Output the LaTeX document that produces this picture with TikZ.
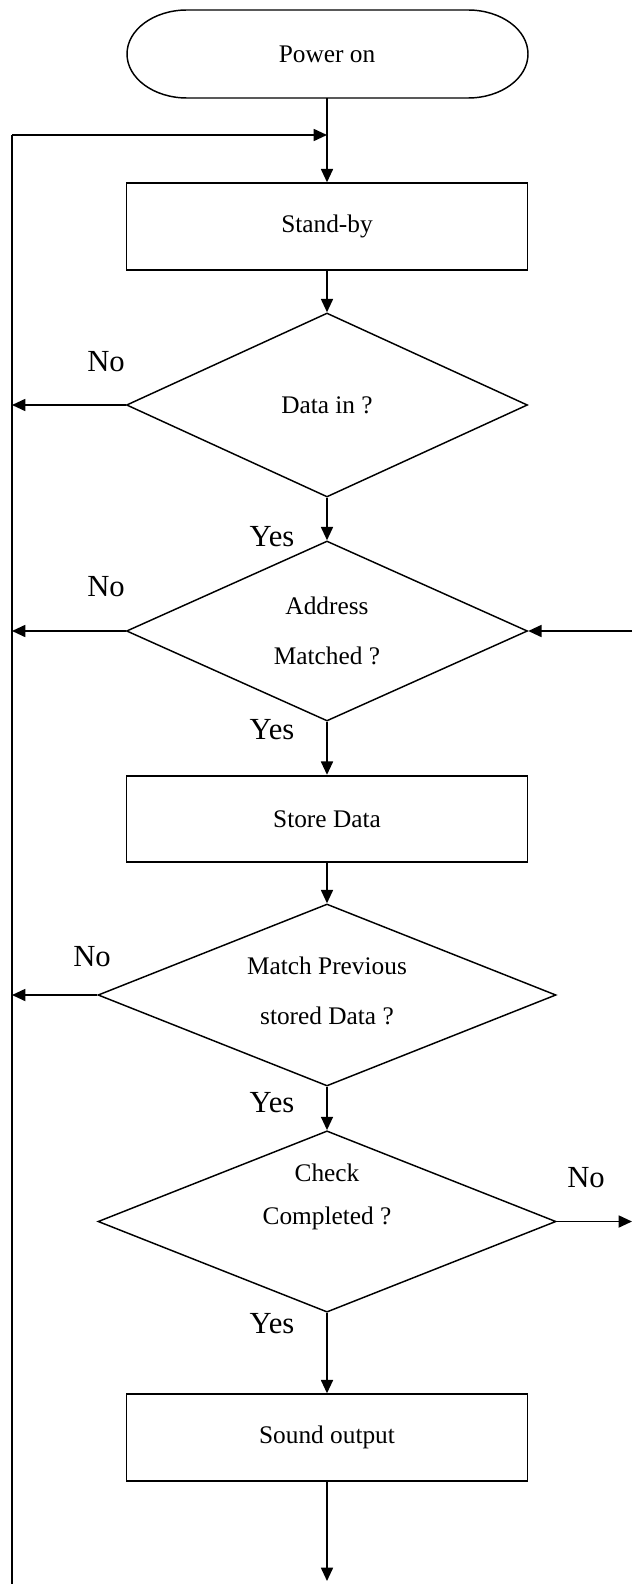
\documentclass[tikz,border=0pt]{standalone}
\usepackage{fontspec}
\setmainfont{Liberation Serif}
\usetikzlibrary{shapes.geometric,arrows.meta,calc}
\tikzset{
  box/.style={draw,line width=1.3pt,minimum width=300.75pt,minimum height=65pt,inner sep=0pt,font=\fontsize{19}{24}\selectfont},
  dec/.style={draw,line width=1.1pt,shape=diamond,shape aspect=2.4,inner sep=0pt,align=center,font=\fontsize{19}{38}\selectfont},
  dtxt/.style={inner sep=0pt,align=center,font=\fontsize{19}{38}\selectfont},
  lbl/.style={font=\fontsize{23}{28}\selectfont,inner sep=0pt},
  arr/.style={line width=1.3pt,-{Triangle[length=10pt,width=9pt]}},
  ln/.style={line width=1.3pt}
}
\begin{document}
\begin{tikzpicture}[x=0.75pt,y=-0.75pt]
\useasboundingbox (0,0) rectangle (632,1584);
% terminal
\node (pwr) [minimum width=300.75pt,minimum height=66pt,inner sep=0pt,font=\fontsize{19}{24}\selectfont] at (327,54) {Power on};
\draw[line width=1.1pt] (187,10) -- (468,10) arc[start angle=90,end angle=-90,x radius=45pt,y radius=33pt]
  -- (187,98) arc[start angle=270,end angle=90,x radius=45pt,y radius=33pt] -- cycle;
\node (stb) [box] at (327,226.5) {Stand-by};
\node (d1) [dec,minimum width=300.75pt,minimum height=138pt] at (327,405) {Data in ?};
\node (d2) [dec,minimum width=300.75pt,minimum height=135pt] at (327,631) {Address\\Matched ?};
\node (sto) [box] at (327,819) {Store Data};
\node (d3) [dec,minimum width=343.5pt,minimum height=136.5pt] at (327,995) {};
\node (d3t) [dtxt] at (327,991) {Match Previous\\stored Data ?};
\node (d4) [dec,minimum width=343.5pt,minimum height=136pt] at (327,1221.5) {};
\node (d4t) [dtxt,font=\fontsize{19}{32.5}\selectfont] at (327,1197) {Check\\Completed ?};
\node (snd) [box] at (327,1437.5) {Sound output};
% coordinates
\coordinate (Lb) at (12,1584);
\coordinate (Lt) at (12,135);
\coordinate (J) at (327,135);
\coordinate (R2) at (632,631);
\coordinate (R4) at (632,1221.5);
\coordinate (E) at (327,1581);
% main flow
\draw[arr] (pwr.south) -- (stb.north);
\draw[arr] (stb.south) -- (d1.north);
\draw[arr] (d1.south) -- (d2.north);
\draw[arr] (d2.south) -- (sto.north);
\draw[arr] (sto.south) -- (d3.north);
\draw[arr] (d3.south) -- (d4.north);
\draw[arr] (d4.south) -- (snd.north);
\draw[arr] (snd.south) -- (E);
% loop
\draw[ln] (Lb) -- (Lt);
\draw[arr] (Lt) -- (J);
\draw[arr] (d1.west) -- (d1.west -| Lt);
\draw[arr] (d2.west) -- (d2.west -| Lt);
\draw[arr] (d3.west) -- (d3.west -| Lt);
\draw[arr] (R2) -- (d2.east);
\draw[arr] (d4.east) -- (R4);
% labels
\node (n1) [lbl] at (106,362) {No};
\node (n2) [lbl] at (106,587) {No};
\node (n3) [lbl] at (92,957) {No};
\node (n4) [lbl] at (586,1178) {No};
\node (y1) [lbl] at (272,537) {Yes};
\node (y2) [lbl] at (272,730) {Yes};
\node (y3) [lbl] at (272,1103) {Yes};
\node (y4) [lbl] at (272,1324) {Yes};
\end{tikzpicture}
\end{document}
